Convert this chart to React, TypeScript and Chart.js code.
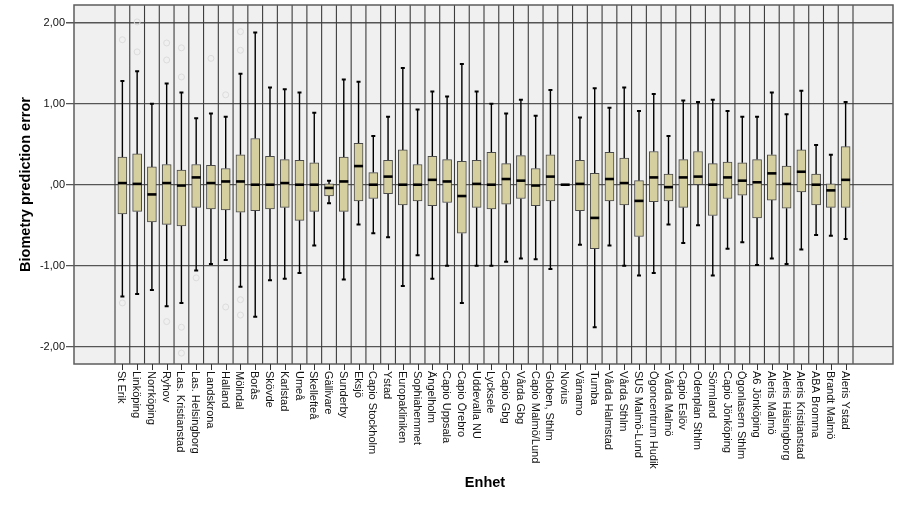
import React, { useEffect, useRef } from "react";
import { Chart, registerables } from "chart.js";

Chart.register(...registerables);

const categories = [
  "St Erik", "Linköping", "Norrköping", "Ryhov", "Las. Kristianstad", "Las. Helsingborg",
  "Landskrona", "Halland", "Mölndal", "Borås", "Skövde", "Karlstad", "Umeå", "Skellefteå",
  "Gällivare", "Sunderby", "Eksjö", "Capio Stockholm", "Ystad", "Europakliniken",
  "Sophiahemmet", "Ängelholm", "Capio Uppsala", "Capio Örebro", "Uddevalla NU", "Lycksele",
  "Capio Gbg", "Vårda Gbg", "Capio Malmö/Lund", "Globen, Sthlm", "Novius", "Värnamo", "Tumba",
  "Vårda Halmstad", "Vårda Sthlm", "SUS Malmö-Lund", "Ögoncentrum Hudik", "Vårda Malmö",
  "Capio Eslöv", "Odenplan Sthlm", "Sörmland", "Capio Jönköping", "Ögonlasern Sthlm",
  "A6 Jönköping", "Aleris Malmö", "Aleris Hälsingborg", "Aleris Kristianstad", "ABA Bromma",
  "Brandt Malmö", "Aleris Ystad",
];

const whiskerHigh = [
  1.28, 1.40, 1.00, 1.25, 1.14, 0.82, 0.88, 0.84, 1.37, 1.88, 1.20, 1.18, 1.14, 0.89,
  0.05, 1.30, 1.27, 0.60, 0.84, 1.44, 0.93, 1.15, 1.09, 1.49, 1.15, 1.00, 0.88, 1.05,
  0.85, 1.17, 0.00, 0.83, 1.19, 0.95, 1.20, 0.91, 1.12, 0.60, 1.04, 1.02, 1.05, 0.91,
  0.84, 0.84, 1.14, 0.87, 1.16, 0.49, 0.37, 1.02,
];
const q3 = [
  0.34, 0.38, 0.22, 0.25, 0.18, 0.25, 0.24, 0.20, 0.37, 0.57, 0.35, 0.31, 0.30, 0.27,
  0.01, 0.34, 0.51, 0.15, 0.30, 0.43, 0.25, 0.35, 0.31, 0.29, 0.30, 0.40, 0.26, 0.36,
  0.20, 0.37, 0.00, 0.30, 0.14, 0.40, 0.33, 0.05, 0.41, 0.13, 0.31, 0.41, 0.26, 0.28,
  0.27, 0.31, 0.37, 0.23, 0.43, 0.13, 0.01, 0.47,
];
const median = [
  0.02, 0.01, -0.12, 0.02, -0.01, 0.09, 0.02, 0.04, 0.04, 0.00, 0.00, 0.02, 0.00, 0.00,
  -0.04, 0.04, 0.23, 0.00, 0.10, 0.00, 0.00, 0.06, 0.04, -0.14, 0.01, 0.00, 0.07, 0.05,
  -0.01, 0.10, 0.00, 0.01, -0.41, 0.07, 0.02, -0.20, 0.09, -0.03, 0.09, 0.10, 0.00, 0.09,
  0.05, 0.03, 0.14, 0.01, 0.16, 0.00, -0.07, 0.06,
];
const q1 = [
  -0.36, -0.33, -0.46, -0.49, -0.51, -0.28, -0.30, -0.31, -0.34, -0.32, -0.30, -0.28, -0.44, -0.33,
  -0.14, -0.33, -0.20, -0.17, -0.11, -0.25, -0.20, -0.26, -0.22, -0.60, -0.28, -0.30, -0.24, -0.17,
  -0.26, -0.20, 0.00, -0.32, -0.79, -0.20, -0.25, -0.64, -0.21, -0.20, -0.28, 0.00, -0.38, -0.17,
  -0.13, -0.41, -0.19, -0.29, -0.09, -0.25, -0.28, -0.28,
];
const whiskerLow = [
  -1.38, -1.35, -1.30, -1.50, -1.46, -1.06, -0.98, -0.93, -1.26, -1.63, -1.18, -1.16, -1.09, -0.75,
  -0.23, -1.17, -0.49, -0.60, -0.65, -1.25, -0.87, -1.16, -1.00, -1.46, -1.00, -1.00, -0.95, -0.91,
  -0.92, -1.04, 0.00, -0.74, -1.76, -0.75, -1.00, -1.12, -1.09, -0.49, -0.72, -0.50, -1.12, -0.79,
  -0.71, -0.99, -0.91, -0.98, -0.80, -0.62, -0.63, -0.67,
];

const outlierCategory = [0, 1, 1, 3, 3, 4, 4, 6, 7, 8, 8, 0, 3, 4, 4, 5, 7, 8, 8];
const outlierValue = [1.79, 2.01, 1.64, 1.75, 1.54, 1.69, 1.33, 1.56, 1.11, 1.89, 1.66, -1.46, -1.69, -1.76, -2.08, -1.15, -1.51, -1.42, -1.61];

const yTicks = [2, 1, 0, -1, -2];
const yTickLabels = ["2,00", "1,00", ",00", "-1,00", "-2,00"];
const xTitle = "Enhet";
const yTitle = "Biometry prediction error";

const FONT = '"Liberation Sans", Arial, sans-serif';

const decoPlugin = {
  id: "boxDeco",
  beforeDatasetsDraw(chart: any) {
    const { ctx, chartArea: a, scales } = chart;
    const xs = scales.x;
    const ys = scales.y;
    ctx.save();
    ctx.fillStyle = "#f0f0f0";
    ctx.fillRect(a.left, a.top, a.right - a.left, a.bottom - a.top);
    // horizontal grid + tick marks
    ctx.strokeStyle = "#555";
    ctx.lineWidth = 1.3;
    yTicks.forEach((v) => {
      const y = ys.getPixelForValue(v);
      ctx.beginPath();
      ctx.moveTo(a.left - 8, y);
      ctx.lineTo(a.right, y);
      ctx.stroke();
    });
    // vertical separators
    ctx.strokeStyle = "#3c3c3c";
    ctx.lineWidth = 1.1;
    for (let i = 0; i <= categories.length; i++) {
      const x = xs.getPixelForValue(i - 0.5);
      ctx.beginPath();
      ctx.moveTo(x, a.top);
      ctx.lineTo(x, a.bottom);
      ctx.stroke();
    }
    // whiskers
    ctx.strokeStyle = "#000";
    categories.forEach((_, i) => {
      const x = xs.getPixelForValue(i);
      const yHi = ys.getPixelForValue(whiskerHigh[i]);
      const yQ3 = ys.getPixelForValue(q3[i]);
      const yQ1 = ys.getPixelForValue(q1[i]);
      const yLo = ys.getPixelForValue(whiskerLow[i]);
      ctx.lineWidth = 1.4;
      ctx.beginPath();
      ctx.moveTo(x, yQ3);
      ctx.lineTo(x, yHi);
      ctx.moveTo(x, yQ1);
      ctx.lineTo(x, yLo);
      ctx.stroke();
      if (whiskerHigh[i] !== whiskerLow[i]) {
        ctx.lineWidth = 2;
        ctx.beginPath();
        ctx.moveTo(x - 2, yHi);
        ctx.lineTo(x + 2, yHi);
        ctx.moveTo(x - 2, yLo);
        ctx.lineTo(x + 2, yLo);
        ctx.stroke();
      }
    });
    ctx.restore();
  },
  afterDatasetsDraw(chart: any) {
    const { ctx, chartArea: a, scales } = chart;
    const xs = scales.x;
    const ys = scales.y;
    ctx.save();
    // medians
    ctx.strokeStyle = "#000";
    ctx.lineWidth = 2.6;
    categories.forEach((_, i) => {
      const x = xs.getPixelForValue(i);
      const y = ys.getPixelForValue(median[i]);
      ctx.beginPath();
      ctx.moveTo(x - 4.5, y);
      ctx.lineTo(x + 4.5, y);
      ctx.stroke();
    });
    // plot border
    ctx.strokeStyle = "#5c5c5c";
    ctx.lineWidth = 1.5;
    ctx.strokeRect(a.left, a.top, a.right - a.left, a.bottom - a.top);
    // x tick marks and labels
    ctx.strokeStyle = "#333";
    ctx.lineWidth = 1;
    ctx.fillStyle = "#111";
    ctx.font = `11px ${FONT}`;
    categories.forEach((c, i) => {
      const x = Math.round(xs.getPixelForValue(i)) + 0.5;
      ctx.beginPath();
      ctx.moveTo(x, a.bottom);
      ctx.lineTo(x, a.bottom + 6);
      ctx.stroke();
      ctx.save();
      ctx.translate(x - 1.5, a.bottom + 7);
      ctx.rotate(Math.PI / 2);
      ctx.textAlign = "left";
      ctx.textBaseline = "middle";
      ctx.fillText(c, 0, 0);
      ctx.restore();
    });
    // y tick labels
    ctx.textAlign = "right";
    ctx.textBaseline = "middle";
    yTicks.forEach((v, k) => {
      ctx.fillText(yTickLabels[k], a.left - 9, ys.getPixelForValue(v));
    });
    // titles
    ctx.fillStyle = "#000";
    ctx.font = `bold 14.5px ${FONT}`;
    ctx.textAlign = "center";
    ctx.textBaseline = "middle";
    ctx.fillText(xTitle, 485, 483);
    ctx.save();
    ctx.translate(26, (a.top + a.bottom) / 2);
    ctx.rotate(-Math.PI / 2);
    ctx.fillText(yTitle, 0, 0);
    ctx.restore();
    ctx.restore();
  },
};

export default function App() {
  const ref = useRef<HTMLCanvasElement | null>(null);
  useEffect(() => {
    if (!ref.current) return;
    const chart = new Chart(ref.current, {
      type: "bar",
      data: {
        datasets: [
          {
            type: "bar",
            data: categories.map((_, i) => ({ x: i, y: [q1[i], q3[i]] })) as any,
            backgroundColor: "#d5ce9e",
            borderColor: "#4a4a4a",
            borderWidth: 1,
            borderSkipped: false,
            barThickness: 9,
            grouped: false,
            order: 1,
          } as any,
          {
            type: "scatter",
            data: outlierCategory.map((c, k) => ({ x: c, y: outlierValue[k] })),
            pointRadius: 3,
            pointBorderWidth: 1,
            borderColor: "#dcdcdc",
            backgroundColor: "rgba(0,0,0,0)",
            order: 2,
          } as any,
        ],
      },
      options: {
        animation: false,
        responsive: false,
        layout: { padding: { left: 74, right: 11, top: 5, bottom: 141 } },
        plugins: { legend: { display: false }, tooltip: { enabled: false } },
        scales: {
          x: { type: "linear", display: false, offset: false, bounds: "ticks", min: -3.278, max: 52.21 },
          y: { type: "linear", display: false, min: -2.214, max: 2.219 },
        },
      },
      plugins: [decoPlugin],
    });
    return () => chart.destroy();
  }, []);
  return (
    <div style={{ position: "fixed", left: 0, top: 0, width: 904, height: 505, background: "#fff" }}>
      <canvas ref={ref} width={904} height={505} style={{ width: 904, height: 505, display: "block" }} />
    </div>
  );
}
